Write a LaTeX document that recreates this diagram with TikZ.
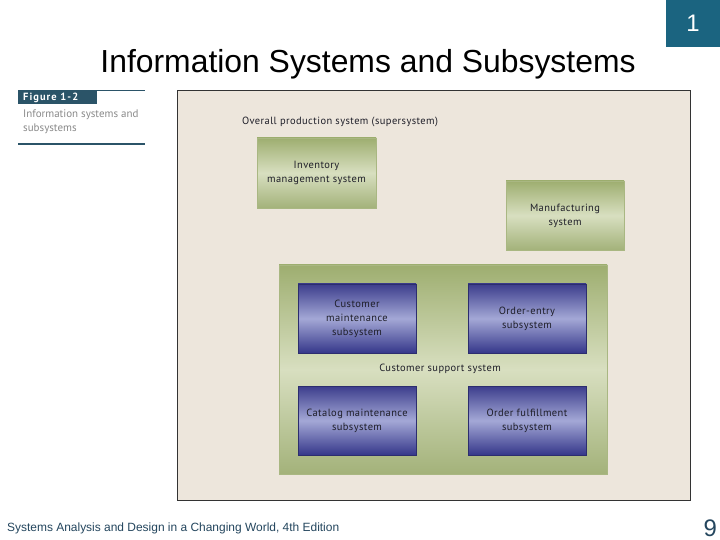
\documentclass[tikz,border=0pt]{standalone}
\usepackage{fontspec}
\setmainfont{Liberation Sans}
\newfontfamily\figfont{PT Sans}
\usepackage{xcolor}
\usetikzlibrary{positioning}
\definecolor{slideteal}{HTML}{1B6480}
\definecolor{footink}{HTML}{24465E}
\definecolor{captionbar}{HTML}{2B5468}
\definecolor{captiongray}{HTML}{8A8A8A}
\definecolor{panelbg}{HTML}{EDE6DC}
\definecolor{panelline}{HTML}{333333}
\definecolor{greentop}{HTML}{9EAE70}
\definecolor{greenmid}{HTML}{D8DFC0}
\definecolor{greenbot}{HTML}{A3B27A}
\definecolor{greenline}{HTML}{A9B782}
\definecolor{bluetop}{HTML}{3C3D8C}
\definecolor{bluemid}{HTML}{A4A8D6}
\definecolor{bluebot}{HTML}{35378A}
\definecolor{blueline}{HTML}{2C2D6E}
\definecolor{figink}{HTML}{1E1E28}
\tikzset{
fig font/.style={font=\figfont\fontsize{10.5}{14}\selectfont\addfontfeature{LetterSpace=4}},
fig label/.style={fig font, text=figink, align=center, inner sep=0pt},
green box/.style={draw=greenline, line width=0.6pt, top color=greentop,
  bottom color=greenbot, middle color=greenmid, minimum width=119bp, minimum height=70bp, inner sep=0pt,
  fig font, text=figink, align=center},
support box/.style={green box, minimum width=328bp, minimum height=209bp},
blue box/.style={draw=blueline, line width=0.6pt, top color=bluetop,
  bottom color=bluebot, middle color=bluemid, minimum width=118bp, minimum height=69bp, inner sep=0pt,
  fig font, text=figink, align=center}
}
\begin{document}
\begin{tikzpicture}[x=1bp,y=-1bp]
\useasboundingbox[fill=white] (0,0) rectangle (720,540);
% slide frame
\node[fill=slideteal, minimum width=54bp, minimum height=47bp, inner sep=0pt,
  text=white, font=\fontsize{24}{28}\selectfont] (slidenum) at (693,23.5) {1};
\node[font=\fontsize{32}{38}\selectfont] (title) at (368,64) {Information Systems and Subsystems};
\node[anchor=base west, text=footink, font=\fontsize{12}{14}\selectfont, inner sep=0pt] (foot) at (7,531) {Systems Analysis and Design in a Changing World, 4th Edition};
\node[anchor=base east, text=footink, font=\fontsize{24}{28}\selectfont, inner sep=0pt] (pagenum) at (717,536) {9};
% figure caption
\draw[captionbar, line width=0.6pt] (18,90) -- (145,90);
\node[fill=captionbar, anchor=north west, minimum width=79bp, minimum height=14bp, inner sep=0pt] (figtag) at (18,90) {};
\node[anchor=west, inner sep=0pt, text=white,
  font=\figfont\bfseries\fontsize{10.5}{12}\selectfont\addfontfeature{LetterSpace=10}] (figtagtext) at (23,97.5) {Figure 1-2};
\node[anchor=north west, align=left, text=captiongray, inner sep=0pt,
  font=\figfont\fontsize{11}{14}\selectfont] (figcaption) at (23,110) {Information systems and\\subsystems};
\draw[captionbar, line width=2pt] (18,144) -- (145,144);
% panel
\node[draw=panelline, fill=panelbg, line width=1.2pt, anchor=north west,
  minimum width=513bp, minimum height=410bp, inner sep=0pt] (panel) at (177,90) {};
\node[fig label, anchor=base west] (superlabel) at (242,125) {Overall production system (supersystem)};
\node[green box] (inventory) at (316.5,173) {Inventory\\management system};
\node[green box, minimum width=118bp, minimum height=69bp] (manufacturing) at (565,215.5) {Manufacturing\\system};
\node[support box] (support) at (443,369.5) {};
\node[fig label] (supportlabel) at (440,369) {Customer support system};
\node[blue box] (custmaint) at (357,318.5) {Customer\\maintenance\\subsystem};
\node[blue box] (orderentry) at (527,318.5) {Order-entry\\subsystem};
\node[blue box] (catalog) at (357,420.5) {Catalog maintenance\\subsystem};
\node[blue box] (fulfillment) at (527,420.5) {Order fulfillment\\subsystem};
\end{tikzpicture}
\end{document}
